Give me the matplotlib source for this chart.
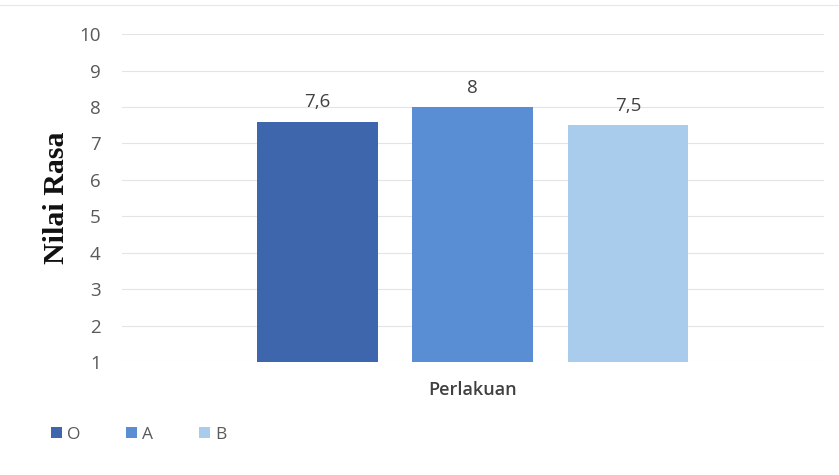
import matplotlib.pyplot as plt
import numpy as np

groups = ["O", "A", "B"]
nilai = [7.6, 8.0, 7.5]
labels = ["7,6", "8", "7,5"]
colors = ["#3d66ad", "#5a8ed4", "#a9cced"]
yticks = list(range(1, 11))

fig = plt.figure(figsize=(8.39, 4.75), dpi=100)
ax = fig.add_axes([0.145, 0.238, 0.837, 0.690])

width = 0.172
offsets = np.array([-1, 0, 1]) * 0.221
for off, val, lab, col, name in zip(offsets, nilai, labels, colors, groups):
    ax.bar(off, val - 1, width, bottom=1, color=col, label=name, zorder=3)
    ax.text(off, val + 0.28, lab, ha="center", va="bottom",
            fontsize=13.5, color="#404040", family="Open Sans")

ax.set_xlim(-0.5, 0.5)
ax.set_ylim(1, 10)
ax.set_yticks(yticks)
ax.set_yticklabels([str(t) for t in yticks], fontsize=13.5, color="#595959",
                   family="Open Sans")
ax.set_xticks([0])
ax.set_xticklabels(["Perlakuan"], fontsize=13, color="#404040",
                   family="Open Sans", fontweight="semibold")
ax.tick_params(axis="y", length=0, pad=15)
ax.tick_params(axis="x", length=0, pad=14)
ax.yaxis.grid(True, color="#e4e4e4", linewidth=0.8, zorder=0)
for s in ax.spines.values():
    s.set_visible(False)

ax.set_ylabel("Nilai Rasa", fontsize=21.5, fontweight="bold",
              family="Liberation Serif", color="#111111", labelpad=7)

# faint chart border across the top
fig.add_artist(plt.Line2D([0, 1], [0.99, 0.99], color="#e8e8e8", linewidth=0.8))

leg = fig.legend(loc="lower left", bbox_to_anchor=(0.042, 0.035), ncol=3,
                 frameon=False, handlelength=0.65, handleheight=0.65,
                 handletextpad=0.3, columnspacing=2.6,
                 prop={"family": "Open Sans", "size": 12.5})
for t in leg.get_texts():
    t.set_color("#595959")

fig.savefig("out.png", dpi=100)
